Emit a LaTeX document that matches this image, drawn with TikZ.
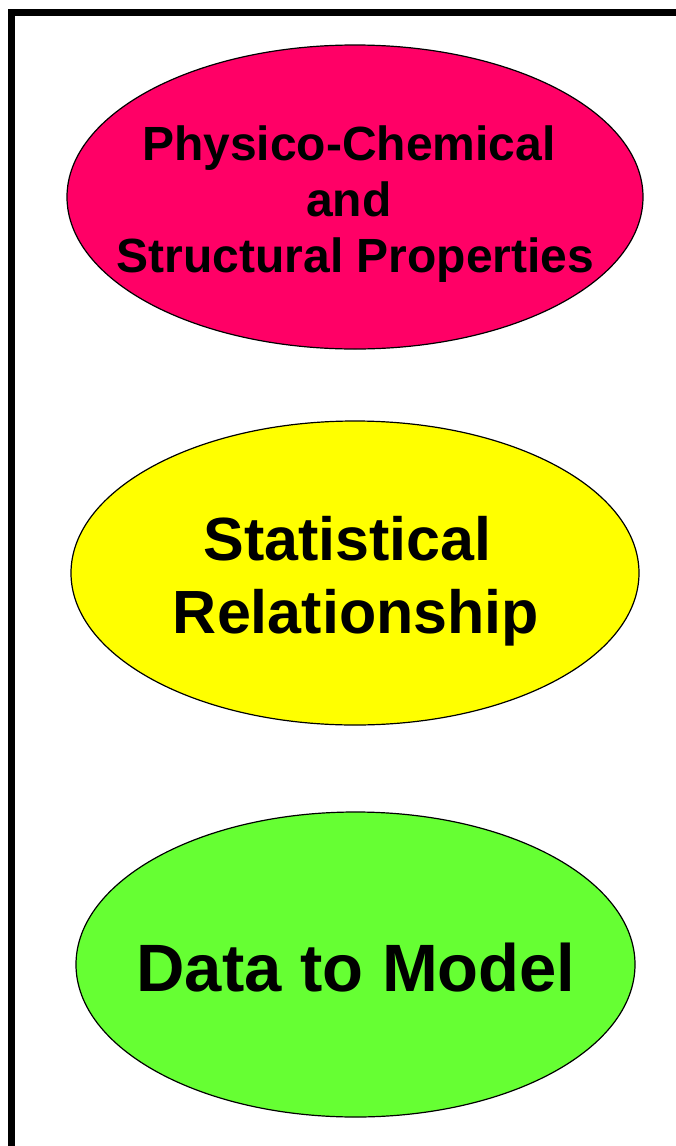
\documentclass[tikz,border=0pt]{standalone}
\usepackage{fontspec}
\setmainfont{Liberation Sans}
\usetikzlibrary{shapes.geometric}
\definecolor{cpink}{HTML}{FF0066}
\definecolor{cyellow}{HTML}{FFFF00}
\definecolor{cgreen}{HTML}{66FF33}
\begin{document}
\begin{tikzpicture}[x=1pt,y=1pt,
  ell/.style={ellipse, draw=black, line width=1.2pt, inner sep=0pt},
  lbl/.style={align=center, font=\bfseries, inner sep=0pt}]
\useasboundingbox (0,0) rectangle (675,-1146);
\fill[white] (0,0) rectangle (675,-1146);
% frame
\draw[line width=7pt, line join=miter] (11.5,-1160) -- (11.5,-12.5) -- (690,-12.5);
% ellipses
\node[ell, fill=cpink, minimum width=576, minimum height=304] (e1) at (355,-197) {};
\node[ell, fill=cyellow, minimum width=568, minimum height=304] (e2) at (355,-573) {};
\node[ell, fill=cgreen, minimum width=559, minimum height=305] (e3) at (355.5,-964.5) {};
% labels
\node[lbl, font=\fontsize{48}{56}\selectfont\bfseries, anchor=base] (t1) at (355.5,-272)
  {Physico-Chemical\kern0.278em\\ and\kern0.278em\\ Structural Properties};
\node[lbl, font=\fontsize{61}{73}\selectfont\bfseries, anchor=base] (t2) at (356,-633)
  {Statistical\kern0.278em\\ Relationship};
\node[lbl, font=\fontsize{67}{79}\selectfont\bfseries, anchor=base] (t3) at (356,-991)
  {Data to Model};
\end{tikzpicture}
\end{document}
